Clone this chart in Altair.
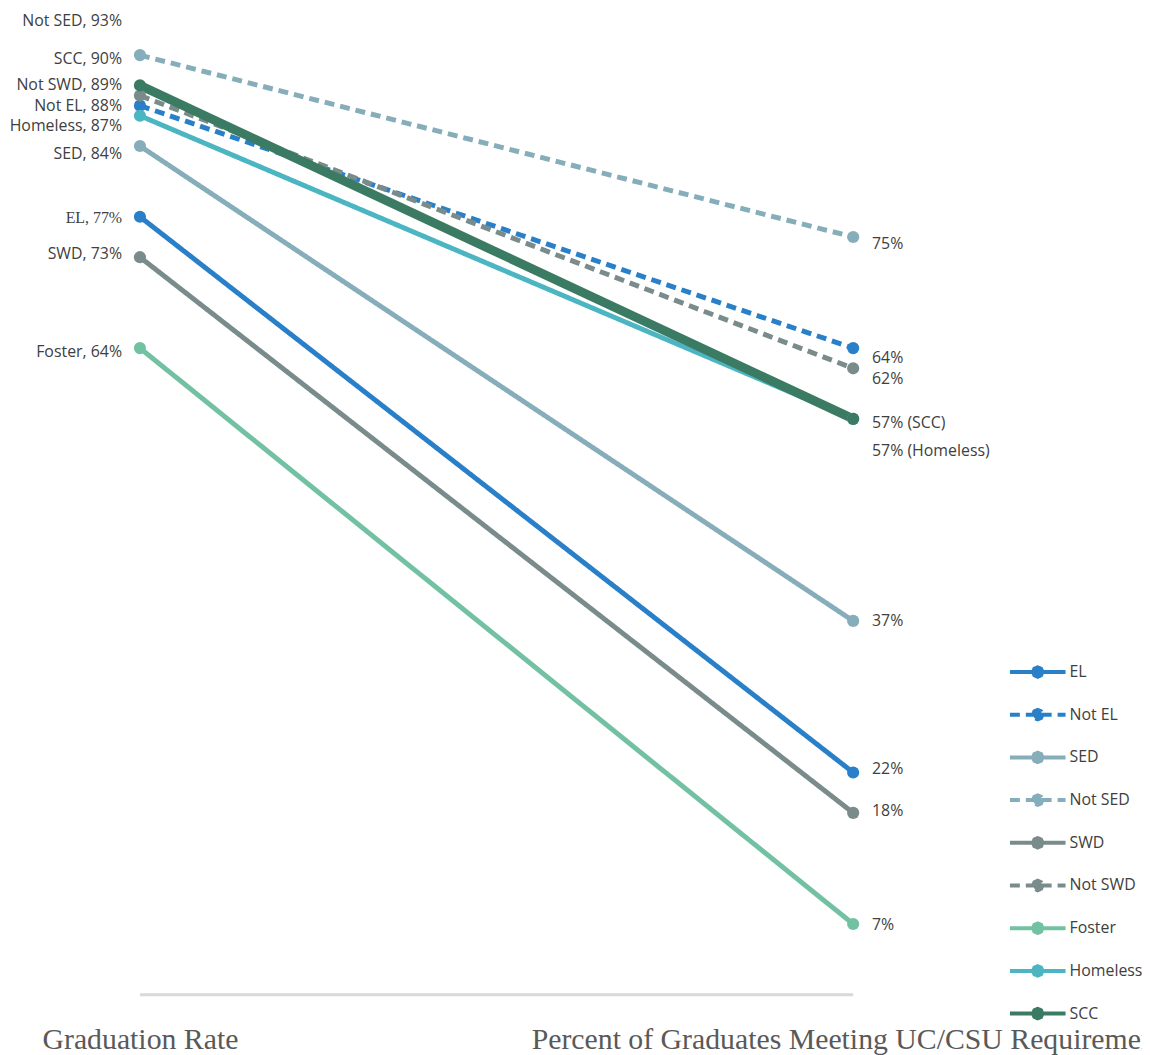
import altair as alt
import pandas as pd

# ---------------- data ----------------
groups = ["EL", "Not EL", "SED", "Not SED", "SWD", "Not SWD", "Foster", "Homeless", "SCC"]
graduation_rate = [77, 88, 84, 93, 73, 89, 64, 87, 90]
uc_csu_rate = [22, 64, 37, 75, 18, 62, 7, 57, 57]
measures = ["Graduation Rate", "Percent of Graduates Meeting UC/CSU Requirements"]
left_labels = ["EL, 77%", "Not EL, 88%", "SED, 84%", "Not SED, 93%", "SWD, 73%",
               "Not SWD, 89%", "Foster, 64%", "Homeless, 87%", "SCC, 90%"]
right_labels = ["22%", "64%", "37%", "75%", "18%", "62%", "7%", "57% (Homeless)", "57% (SCC)"]

# ---------------- styles ----------------
colors = {"EL": "#2a80c8", "Not EL": "#2a80c8", "SED": "#86adba", "Not SED": "#86adba",
          "SWD": "#7a8b8b", "Not SWD": "#7a8b8b", "Foster": "#73c1a3",
          "Homeless": "#4bb6c2", "SCC": "#3b7b63"}
dashed = {"Not EL", "Not SED", "Not SWD"}
left_dy = {"EL": 1, "Not EL": 0, "SED": 8, "Not SED": -34, "SWD": -3, "Not SWD": -11,
           "Foster": 4, "Homeless": 10, "SCC": -27}
right_dy = {"EL": -3, "Not EL": 10, "SED": 0, "Not SED": 7, "SWD": -2, "Not SWD": 11,
            "Foster": 1, "Homeless": 32, "SCC": 4}
left_font = {"EL": "Liberation Serif"}

rows = []
for i, g in enumerate(groups):
    rows.append({"group": g, "measure": measures[0], "value": graduation_rate[i], "label": left_labels[i]})
    rows.append({"group": g, "measure": measures[1], "value": uc_csu_rate[i], "label": right_labels[i]})
df = pd.DataFrame(rows)

color_range = [colors[g] for g in groups]
dash_range = [[10, 6] if g in dashed else [1, 0] for g in groups]

x_scale = alt.Scale(type="point", domain=measures, padding=0.185)
x_axis = alt.Axis(domain=False, ticks=False, grid=False, labelAngle=0,
                  labelFont="Liberation Serif", labelFontSize=30,
                  labelColor="#595959", labelPadding=30, labelLimit=3000,
                  labelOverlap=False, labelFlush=False, labelBound=False)
x_enc = alt.X("measure:N", scale=x_scale, title=None, axis=x_axis)
y_scale = alt.Scale(domain=[0, 97.3], nice=False, zero=False)
y_enc = alt.Y("value:Q", scale=y_scale, axis=None)

# legend symbol: a line with a round-ish dot in its middle
sym_path = ("M-1,0L1,0"
            "M0.17,0L0.12,0.12L0,0.17L-0.12,0.12L-0.17,0L-0.12,-0.12L0,-0.17L0.12,-0.12Z"
            "M0.08,0L0,0.08L-0.08,0L0,-0.08Z")

legend = alt.Legend(title=None, orient="none", legendX=1007, legendY=635,
                    symbolType=sym_path, symbolSize=3136, symbolStrokeWidth=4,
                    labelFont="Open Sans", labelFontSize=16, labelColor="#404040",
                    labelOffset=2, rowPadding=-6, padding=0)

base = alt.Chart(df)

baseline_df = pd.DataFrame({"measure": measures, "value": [0, 0]})
baseline = alt.Chart(baseline_df).mark_line(color="#d9d9d9", strokeWidth=3).encode(
    x=x_enc, y=y_enc,
)

lines = base.mark_line(strokeWidth=5).encode(
    x=x_enc, y=y_enc,
    color=alt.Color("group:N", scale=alt.Scale(domain=groups, range=color_range), legend=legend),
    strokeDash=alt.StrokeDash("group:N", scale=alt.Scale(domain=groups, range=dash_range)),
)

scc_line = base.transform_filter(alt.datum.group == "SCC").mark_line(
    strokeWidth=9, color=colors["SCC"]).encode(x=x_enc, y=y_enc)

points = base.mark_circle(size=150, opacity=1).encode(
    x=x_enc, y=y_enc,
    fill=alt.Fill("group:N", scale=alt.Scale(domain=groups, range=color_range), legend=None),
)

label_layers = []
for g in groups:
    label_layers.append(
        base.transform_filter((alt.datum.group == g) & (alt.datum.measure == measures[0]))
        .mark_text(align="right", baseline="middle", dx=-18, dy=left_dy[g],
                   font=left_font.get(g, "Open Sans"), fontSize=16, color="#404040")
        .encode(x=x_enc, y=y_enc, text="label:N")
    )
    label_layers.append(
        base.transform_filter((alt.datum.group == g) & (alt.datum.measure == measures[1]))
        .mark_text(align="left", baseline="middle", dx=19, dy=right_dy[g],
                   font="Open Sans", fontSize=16, color="#404040")
        .encode(x=x_enc, y=y_enc, text="label:N")
    )

chart = alt.layer(baseline, lines, scc_line, points, *label_layers).properties(
    width=984, height=990,
    padding={"left": 0, "top": 0, "right": 158, "bottom": 57},
    autosize=alt.AutoSizeParams(type="none"),
).configure_view(stroke=None)

chart.save("out.html", embed_options={"renderer": "svg", "actions": False})
